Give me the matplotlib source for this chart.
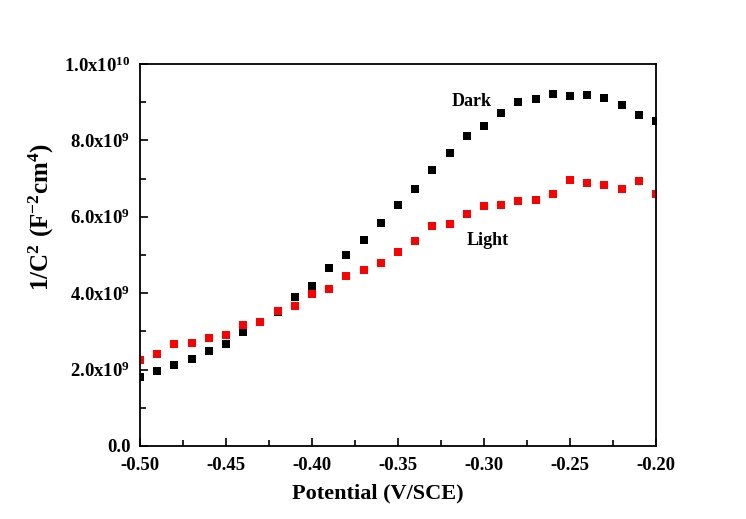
import numpy as np
import matplotlib
matplotlib.use("Agg")
import matplotlib.pyplot as plt
from matplotlib.ticker import MultipleLocator, FuncFormatter

# Mott-Schottky data: potential (V vs SCE) and 1/C^2 (F^-2 cm^4)
potential = [-0.50, -0.49, -0.48, -0.47, -0.46, -0.45, -0.44, -0.43, -0.42, -0.41,
             -0.40, -0.39, -0.38, -0.37, -0.36, -0.35, -0.34, -0.33, -0.32, -0.31,
             -0.30, -0.29, -0.28, -0.27, -0.26, -0.25, -0.24, -0.23, -0.22, -0.21,
             -0.20]
dark = [1.80e9, 1.97e9, 2.11e9, 2.27e9, 2.50e9, 2.68e9, 2.98e9, 3.24e9, 3.52e9, 3.89e9,
        4.20e9, 4.67e9, 4.99e9, 5.40e9, 5.84e9, 6.30e9, 6.74e9, 7.23e9, 7.66e9, 8.12e9,
        8.38e9, 8.73e9, 9.00e9, 9.08e9, 9.21e9, 9.16e9, 9.19e9, 9.10e9, 8.93e9, 8.66e9,
        8.50e9]
light = [2.25e9, 2.40e9, 2.67e9, 2.69e9, 2.84e9, 2.90e9, 3.17e9, 3.24e9, 3.53e9, 3.66e9,
         3.97e9, 4.11e9, 4.46e9, 4.60e9, 4.78e9, 5.07e9, 5.37e9, 5.77e9, 5.81e9, 6.07e9,
         6.29e9, 6.32e9, 6.41e9, 6.43e9, 6.60e9, 6.96e9, 6.88e9, 6.84e9, 6.74e9, 6.94e9,
         6.60e9]

plt.rcParams.update({
    "font.family": ["Liberation Serif", "DejaVu Serif"],
    "font.weight": "bold",
    "mathtext.fontset": "custom",
    "mathtext.rm": "Liberation Serif:bold",
    "mathtext.bf": "Liberation Serif:bold",
    "mathtext.it": "Liberation Serif:bold",
    "mathtext.default": "bf",
    "axes.unicode_minus": False,
})

fig = plt.figure(figsize=(7.46, 5.19), dpi=100)
ax = fig.add_axes([140 / 746, 1 - 446 / 519, 516 / 746, 382 / 519])

ax.plot(potential, dark, linestyle="none", marker="s", markersize=6,
        color="black", markeredgewidth=0)
ax.plot(potential, light, linestyle="none", marker="s", markersize=6,
        color="#ff0000", markeredgewidth=0)

ax.set_xlim(-0.50, -0.20)
ax.set_ylim(0, 1.0e10)

ax.xaxis.set_major_locator(MultipleLocator(0.05))
ax.xaxis.set_minor_locator(MultipleLocator(0.025))
ax.yaxis.set_major_locator(MultipleLocator(2e9))
ax.yaxis.set_minor_locator(MultipleLocator(1e9))


def sci_label(v, pos):
    if abs(v) < 1:
        return "0.0"
    exp = int(np.floor(np.log10(abs(v)) + 1e-9))
    mant = v / 10 ** exp
    return r"$%.1f\mathrm{x}10^{%d}$" % (mant, exp)


ax.xaxis.set_major_formatter(FuncFormatter(lambda v, p: "%.2f" % v))
ax.yaxis.set_major_formatter(FuncFormatter(sci_label))

ax.tick_params(which="both", direction="in", top=False, right=False,
               labelsize=13.5, width=1.2)
ax.tick_params(which="major", length=6)
ax.tick_params(which="minor", length=4)
ax.tick_params(axis="x", pad=8)
ax.tick_params(axis="y", pad=7)
for lab in ax.get_xticklabels() + ax.get_yticklabels():
    lab.set_fontweight("bold")

for sp in ax.spines.values():
    sp.set_linewidth(1.3)

ax.set_xlabel("Potential (V/SCE)", fontsize=16, fontweight="bold")
ax.xaxis.set_label_coords(0.46, -0.097)
ax.set_ylabel(r"$1/C^{2}\ (F^{-2}cm^{4})$", fontsize=18)
ax.yaxis.set_label_coords(-0.163, 0.60)

ax.text(-0.307, 9.03e9, "Dark", fontsize=13, fontweight="bold", ha="center", va="center")
ax.text(-0.298, 5.39e9, "Light", fontsize=13, fontweight="bold", ha="center", va="center")

fig.savefig("out.png", dpi=100)
